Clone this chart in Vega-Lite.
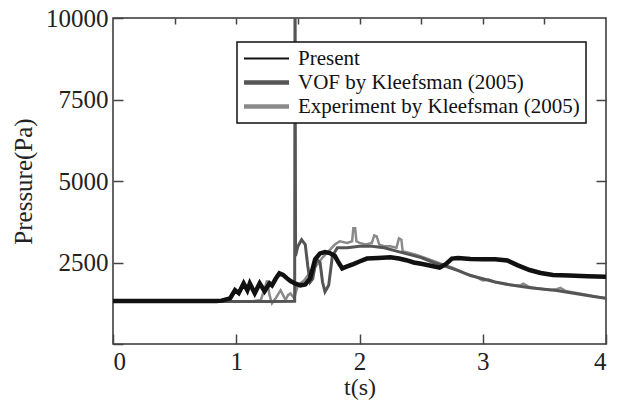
{
  "$schema": "https://vega.github.io/schema/vega-lite/v6.json",
  "autosize": "none",
  "width": 493,
  "height": 326,
  "padding": {"left": 113, "top": 18, "right": 16, "bottom": 63},
  "background": "white",
  "config": {
    "view": {"stroke": "#333", "strokeWidth": 1.5},
    "font": "Liberation Serif",
    "legend": {"labelFont": "Liberation Serif"},
    "axis": {"domain": false, "grid": false, "tickColor": "#444", "tickWidth": 1.5, "labelFont": "Liberation Serif", "titleFont": "Liberation Serif", "labelColor": "#222", "titleColor": "#222", "titleFontWeight": "normal"}
  },
  "data": {"values": [
    {"series": "Experiment by Kleefsman (2005)", "t": 0.0, "p": 1300},
    {"series": "Experiment by Kleefsman (2005)", "t": 1.1, "p": 1300},
    {"series": "Experiment by Kleefsman (2005)", "t": 1.2, "p": 1350},
    {"series": "Experiment by Kleefsman (2005)", "t": 1.23, "p": 1700},
    {"series": "Experiment by Kleefsman (2005)", "t": 1.25, "p": 1950},
    {"series": "Experiment by Kleefsman (2005)", "t": 1.27, "p": 1500},
    {"series": "Experiment by Kleefsman (2005)", "t": 1.29, "p": 1250},
    {"series": "Experiment by Kleefsman (2005)", "t": 1.32, "p": 1400},
    {"series": "Experiment by Kleefsman (2005)", "t": 1.36, "p": 1650},
    {"series": "Experiment by Kleefsman (2005)", "t": 1.38, "p": 1500},
    {"series": "Experiment by Kleefsman (2005)", "t": 1.4, "p": 1350},
    {"series": "Experiment by Kleefsman (2005)", "t": 1.42, "p": 1500},
    {"series": "Experiment by Kleefsman (2005)", "t": 1.44, "p": 1550},
    {"series": "Experiment by Kleefsman (2005)", "t": 1.47, "p": 1400},
    {"series": "Experiment by Kleefsman (2005)", "t": 1.5, "p": 1800},
    {"series": "Experiment by Kleefsman (2005)", "t": 1.55, "p": 1950},
    {"series": "Experiment by Kleefsman (2005)", "t": 1.6, "p": 2200},
    {"series": "Experiment by Kleefsman (2005)", "t": 1.65, "p": 2400},
    {"series": "Experiment by Kleefsman (2005)", "t": 1.7, "p": 2650},
    {"series": "Experiment by Kleefsman (2005)", "t": 1.75, "p": 2850},
    {"series": "Experiment by Kleefsman (2005)", "t": 1.8, "p": 3050},
    {"series": "Experiment by Kleefsman (2005)", "t": 1.84, "p": 3150},
    {"series": "Experiment by Kleefsman (2005)", "t": 1.9, "p": 3100},
    {"series": "Experiment by Kleefsman (2005)", "t": 1.94, "p": 3150},
    {"series": "Experiment by Kleefsman (2005)", "t": 1.95, "p": 3550},
    {"series": "Experiment by Kleefsman (2005)", "t": 1.965, "p": 3550},
    {"series": "Experiment by Kleefsman (2005)", "t": 1.975, "p": 3150},
    {"series": "Experiment by Kleefsman (2005)", "t": 2.0, "p": 3100},
    {"series": "Experiment by Kleefsman (2005)", "t": 2.05, "p": 3050},
    {"series": "Experiment by Kleefsman (2005)", "t": 2.1, "p": 3100},
    {"series": "Experiment by Kleefsman (2005)", "t": 2.12, "p": 3330},
    {"series": "Experiment by Kleefsman (2005)", "t": 2.14, "p": 3300},
    {"series": "Experiment by Kleefsman (2005)", "t": 2.16, "p": 3050},
    {"series": "Experiment by Kleefsman (2005)", "t": 2.2, "p": 3000},
    {"series": "Experiment by Kleefsman (2005)", "t": 2.25, "p": 3000},
    {"series": "Experiment by Kleefsman (2005)", "t": 2.3, "p": 2950},
    {"series": "Experiment by Kleefsman (2005)", "t": 2.32, "p": 3240},
    {"series": "Experiment by Kleefsman (2005)", "t": 2.34, "p": 3200},
    {"series": "Experiment by Kleefsman (2005)", "t": 2.35, "p": 2850},
    {"series": "Experiment by Kleefsman (2005)", "t": 2.45, "p": 2750},
    {"series": "Experiment by Kleefsman (2005)", "t": 2.55, "p": 2620},
    {"series": "Experiment by Kleefsman (2005)", "t": 2.65, "p": 2480},
    {"series": "Experiment by Kleefsman (2005)", "t": 2.75, "p": 2350},
    {"series": "Experiment by Kleefsman (2005)", "t": 2.85, "p": 2180},
    {"series": "Experiment by Kleefsman (2005)", "t": 2.95, "p": 2050},
    {"series": "Experiment by Kleefsman (2005)", "t": 3.0, "p": 1950},
    {"series": "Experiment by Kleefsman (2005)", "t": 3.05, "p": 1980},
    {"series": "Experiment by Kleefsman (2005)", "t": 3.1, "p": 1900},
    {"series": "Experiment by Kleefsman (2005)", "t": 3.2, "p": 1820},
    {"series": "Experiment by Kleefsman (2005)", "t": 3.3, "p": 1790},
    {"series": "Experiment by Kleefsman (2005)", "t": 3.33, "p": 1850},
    {"series": "Experiment by Kleefsman (2005)", "t": 3.37, "p": 1760},
    {"series": "Experiment by Kleefsman (2005)", "t": 3.45, "p": 1700},
    {"series": "Experiment by Kleefsman (2005)", "t": 3.55, "p": 1660},
    {"series": "Experiment by Kleefsman (2005)", "t": 3.6, "p": 1680},
    {"series": "Experiment by Kleefsman (2005)", "t": 3.63, "p": 1720},
    {"series": "Experiment by Kleefsman (2005)", "t": 3.67, "p": 1630},
    {"series": "Experiment by Kleefsman (2005)", "t": 3.75, "p": 1570},
    {"series": "Experiment by Kleefsman (2005)", "t": 3.85, "p": 1500},
    {"series": "Experiment by Kleefsman (2005)", "t": 3.95, "p": 1430},
    {"series": "Experiment by Kleefsman (2005)", "t": 4.0, "p": 1400},

    {"series": "VOF by Kleefsman (2005)", "t": 0.0, "p": 1300},
    {"series": "VOF by Kleefsman (2005)", "t": 1.0, "p": 1300},
    {"series": "VOF by Kleefsman (2005)", "t": 1.3, "p": 1300},
    {"series": "VOF by Kleefsman (2005)", "t": 1.474, "p": 1310},
    {"series": "VOF by Kleefsman (2005)", "t": 1.477, "p": 12000},
    {"series": "VOF by Kleefsman (2005)", "t": 1.481, "p": 2700},
    {"series": "VOF by Kleefsman (2005)", "t": 1.5, "p": 3000},
    {"series": "VOF by Kleefsman (2005)", "t": 1.53, "p": 3200},
    {"series": "VOF by Kleefsman (2005)", "t": 1.56, "p": 3050},
    {"series": "VOF by Kleefsman (2005)", "t": 1.58, "p": 2400},
    {"series": "VOF by Kleefsman (2005)", "t": 1.6, "p": 1900},
    {"series": "VOF by Kleefsman (2005)", "t": 1.62, "p": 2000},
    {"series": "VOF by Kleefsman (2005)", "t": 1.65, "p": 2600},
    {"series": "VOF by Kleefsman (2005)", "t": 1.68, "p": 2500},
    {"series": "VOF by Kleefsman (2005)", "t": 1.7, "p": 1900},
    {"series": "VOF by Kleefsman (2005)", "t": 1.72, "p": 1600},
    {"series": "VOF by Kleefsman (2005)", "t": 1.75, "p": 1800},
    {"series": "VOF by Kleefsman (2005)", "t": 1.78, "p": 2700},
    {"series": "VOF by Kleefsman (2005)", "t": 1.82, "p": 2950},
    {"series": "VOF by Kleefsman (2005)", "t": 1.9, "p": 2950},
    {"series": "VOF by Kleefsman (2005)", "t": 2.0, "p": 3000},
    {"series": "VOF by Kleefsman (2005)", "t": 2.1, "p": 3000},
    {"series": "VOF by Kleefsman (2005)", "t": 2.2, "p": 2950},
    {"series": "VOF by Kleefsman (2005)", "t": 2.3, "p": 2850},
    {"series": "VOF by Kleefsman (2005)", "t": 2.4, "p": 2750},
    {"series": "VOF by Kleefsman (2005)", "t": 2.5, "p": 2650},
    {"series": "VOF by Kleefsman (2005)", "t": 2.6, "p": 2500},
    {"series": "VOF by Kleefsman (2005)", "t": 2.7, "p": 2380},
    {"series": "VOF by Kleefsman (2005)", "t": 2.8, "p": 2250},
    {"series": "VOF by Kleefsman (2005)", "t": 2.9, "p": 2100},
    {"series": "VOF by Kleefsman (2005)", "t": 3.0, "p": 2000},
    {"series": "VOF by Kleefsman (2005)", "t": 3.1, "p": 1900},
    {"series": "VOF by Kleefsman (2005)", "t": 3.2, "p": 1830},
    {"series": "VOF by Kleefsman (2005)", "t": 3.3, "p": 1770},
    {"series": "VOF by Kleefsman (2005)", "t": 3.4, "p": 1720},
    {"series": "VOF by Kleefsman (2005)", "t": 3.5, "p": 1680},
    {"series": "VOF by Kleefsman (2005)", "t": 3.6, "p": 1640},
    {"series": "VOF by Kleefsman (2005)", "t": 3.7, "p": 1580},
    {"series": "VOF by Kleefsman (2005)", "t": 3.8, "p": 1520},
    {"series": "VOF by Kleefsman (2005)", "t": 3.9, "p": 1460},
    {"series": "VOF by Kleefsman (2005)", "t": 4.0, "p": 1400},

    {"series": "Present", "t": 0.0, "p": 1320},
    {"series": "Present", "t": 0.5, "p": 1320},
    {"series": "Present", "t": 0.84, "p": 1320},
    {"series": "Present", "t": 0.88, "p": 1330},
    {"series": "Present", "t": 0.95, "p": 1400},
    {"series": "Present", "t": 0.99, "p": 1650},
    {"series": "Present", "t": 1.02, "p": 1560},
    {"series": "Present", "t": 1.06, "p": 1860},
    {"series": "Present", "t": 1.09, "p": 1650},
    {"series": "Present", "t": 1.11, "p": 1860},
    {"series": "Present", "t": 1.15, "p": 1560},
    {"series": "Present", "t": 1.19, "p": 1860},
    {"series": "Present", "t": 1.23, "p": 1620},
    {"series": "Present", "t": 1.27, "p": 1860},
    {"series": "Present", "t": 1.29, "p": 1800},
    {"series": "Present", "t": 1.32, "p": 2000},
    {"series": "Present", "t": 1.35, "p": 2170},
    {"series": "Present", "t": 1.38, "p": 2120},
    {"series": "Present", "t": 1.41, "p": 2020},
    {"series": "Present", "t": 1.44, "p": 1930},
    {"series": "Present", "t": 1.48, "p": 1850},
    {"series": "Present", "t": 1.52, "p": 1800},
    {"series": "Present", "t": 1.56, "p": 1830},
    {"series": "Present", "t": 1.6, "p": 2020},
    {"series": "Present", "t": 1.64, "p": 2600},
    {"series": "Present", "t": 1.68, "p": 2780},
    {"series": "Present", "t": 1.72, "p": 2820},
    {"series": "Present", "t": 1.76, "p": 2790},
    {"series": "Present", "t": 1.8, "p": 2700},
    {"series": "Present", "t": 1.83, "p": 2500},
    {"series": "Present", "t": 1.86, "p": 2320},
    {"series": "Present", "t": 1.9, "p": 2380},
    {"series": "Present", "t": 1.95, "p": 2450},
    {"series": "Present", "t": 2.0, "p": 2530},
    {"series": "Present", "t": 2.06, "p": 2620},
    {"series": "Present", "t": 2.15, "p": 2640},
    {"series": "Present", "t": 2.25, "p": 2660},
    {"series": "Present", "t": 2.32, "p": 2620},
    {"series": "Present", "t": 2.38, "p": 2570},
    {"series": "Present", "t": 2.44, "p": 2500},
    {"series": "Present", "t": 2.5, "p": 2460},
    {"series": "Present", "t": 2.58, "p": 2400},
    {"series": "Present", "t": 2.65, "p": 2340},
    {"series": "Present", "t": 2.7, "p": 2450},
    {"series": "Present", "t": 2.75, "p": 2620},
    {"series": "Present", "t": 2.8, "p": 2640},
    {"series": "Present", "t": 2.9, "p": 2610},
    {"series": "Present", "t": 3.0, "p": 2600},
    {"series": "Present", "t": 3.1, "p": 2600},
    {"series": "Present", "t": 3.2, "p": 2560},
    {"series": "Present", "t": 3.28, "p": 2420},
    {"series": "Present", "t": 3.38, "p": 2270},
    {"series": "Present", "t": 3.47, "p": 2180},
    {"series": "Present", "t": 3.57, "p": 2120},
    {"series": "Present", "t": 3.7, "p": 2100},
    {"series": "Present", "t": 3.85, "p": 2080},
    {"series": "Present", "t": 4.0, "p": 2060}
  ]},
  "resolve": {"axis": {"x": "independent", "y": "independent"}},
  "layer": [
    {
      "layer": [
        {
          "transform": [{"filter": "datum.series === 'Experiment by Kleefsman (2005)'"}],
          "mark": {"type": "line", "strokeWidth": 2.5, "clip": true},
          "encoding": {
            "x": {"field": "t", "type": "quantitative", "scale": {"domain": [0, 4], "nice": false},
              "axis": {"orient": "bottom", "values": [0, 0.5, 1, 1.5, 2, 2.5, 3, 3.5, 4], "format": "d", "labelExpr": "datum.value % 1 === 0 ? datum.label : ''",
                "tickSize": {"condition": {"test": "datum.value % 1 === 0", "value": -10}, "value": -5},
                "labelPadding": 15, "labelFontSize": 25, "title": "t(s)", "titleFontSize": 24, "titlePadding": 1}},
            "y": {"field": "p", "type": "quantitative", "scale": {"domain": [0, 10000], "nice": false},
              "axis": {"orient": "left", "values": [0, 2500, 5000, 7500, 10000], "format": "d", "labelExpr": "datum.value === 0 ? '' : datum.label",
                "tickSize": -10, "labelPadding": 15, "labelFontSize": 25, "title": "Pressure(Pa)", "titleFontSize": 25, "titlePadding": 9}},
            "color": {"field": "series", "type": "nominal",
              "scale": {"domain": ["Present", "VOF by Kleefsman (2005)", "Experiment by Kleefsman (2005)"], "range": ["#111111", "#555555", "#8a8a8a"]},
              "legend": {"orient": "none", "legendX": 124, "legendY": 24, "title": null, "symbolType": "stroke", "symbolSize": 2025,
                "symbolStrokeWidth": 3.5, "symbolOffset": 13, "labelFont": "Liberation Serif", "labelFontSize": 21, "labelColor": "#111", "labelLimit": 500,
                "strokeColor": "#111", "fillColor": "white", "padding": 6, "rowPadding": 2, "labelOffset": 21,
                "encode": {"symbols": {"update": {"strokeWidth": {"signal": "datum.value === 'Present' ? 2 : 4.5"}}},
                           "labels": {"update": {"font": {"value": "Liberation Serif"}}},
                           "legend": {"update": {"strokeWidth": {"value": 1.5}}}}}}
          }
        },
        {
          "transform": [{"filter": "datum.series === 'VOF by Kleefsman (2005)'"}],
          "mark": {"type": "line", "strokeWidth": 3, "clip": true},
          "encoding": {
            "x": {"field": "t", "type": "quantitative"},
            "y": {"field": "p", "type": "quantitative"},
            "color": {"field": "series", "type": "nominal"}
          }
        },
        {
          "transform": [{"filter": "datum.series === 'Present'"}],
          "mark": {"type": "line", "strokeWidth": 4.5, "clip": true},
          "encoding": {
            "x": {"field": "t", "type": "quantitative"},
            "y": {"field": "p", "type": "quantitative"},
            "color": {"field": "series", "type": "nominal"}
          }
        }
      ]
    },
    {
      "mark": {"type": "line", "strokeOpacity": 0},
      "encoding": {
        "x": {"field": "t", "type": "quantitative", "axis": {"orient": "top", "values": [0.5, 1, 1.5, 2, 2.5, 3, 3.5], "labels": false, "title": null, "tickSize": -6}},
        "y": {"field": "p", "type": "quantitative", "axis": {"orient": "right", "values": [2500, 5000, 7500], "labels": false, "title": null, "tickSize": -10}},
        "detail": {"field": "series"}
      }
    }
  ]
}
